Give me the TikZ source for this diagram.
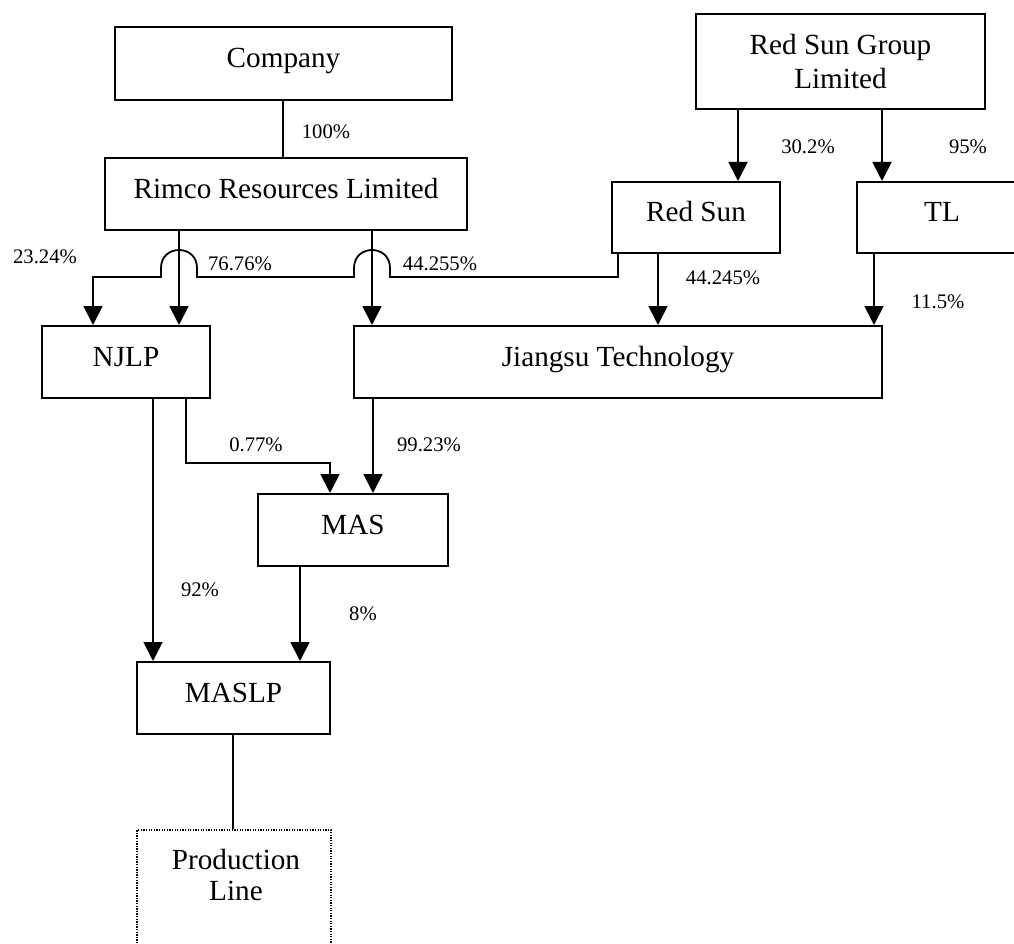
\documentclass[tikz,border=0pt]{standalone}
\usepackage{fontspec}
\setmainfont{Liberation Serif}
\usetikzlibrary{arrows.meta}
\begin{document}
\begin{tikzpicture}[x=1pt,y=-1pt,
  box/.style={draw,line width=2pt,inner sep=0pt,font=\fontsize{29.2}{34}\selectfont,text height=20pt,text depth=11pt},
  mbox/.style={draw,line width=2pt,inner sep=0pt,font=\fontsize{29.2}{34}\selectfont,align=center},
  dbox/.style={draw,line width=1.8pt,dash pattern=on 1.3pt off 1.3pt,inner sep=0pt},
  lbl/.style={font=\fontsize{20.7}{24}\selectfont,inner sep=0pt},
  conn/.style={line width=1.8pt},
  arr/.style={conn,-{Triangle[width=19pt,length=19pt]}},
]
\useasboundingbox (0,0) rectangle (1014,944);
\clip (0,0) rectangle (1014,944);

% boxes
\node[box,minimum width=337pt,minimum height=73pt] (comp) at (283.5,63.5) {Company};
\node[box,minimum width=362pt,minimum height=72pt] (rimco) at (286,194) {Rimco Resources Limited};
\node[mbox,minimum width=289pt,minimum height=95pt] (rsg) at (840.5,61.5) {Red Sun Group\\Limited};
\node[box,minimum width=168pt,minimum height=71pt] (rs) at (696,217.5) {Red Sun};
\node[box,minimum width=170pt,minimum height=71pt] (tl) at (942,217.5) {TL};
\node[box,minimum width=168pt,minimum height=72pt] (njlp) at (126,362) {NJLP};
\node[box,minimum width=528pt,minimum height=72pt] (jt) at (618,362) {Jiangsu Technology};
\node[box,minimum width=190pt,minimum height=72pt] (mas) at (353,530) {MAS};
\node[box,minimum width=193pt,minimum height=72pt] (maslp) at (233.5,698) {MASLP};
\node[dbox,minimum width=194pt,minimum height=150pt] (pl) at (234,905) {};
\node[font=\fontsize{29.2}{31}\selectfont,align=center,inner sep=0pt] (pltext) at (236,875) {Production\\Line};

% connectors
\draw[conn] (283,0 |- comp.south) -- (283,0 |- rimco.north);
\draw[arr] (738,0 |- rsg.south) -- (738,0 |- rs.north);
\draw[arr] (882,0 |- rsg.south) -- (882,0 |- tl.north);
\draw[arr] (179,0 |- rimco.south) -- (179,0 |- njlp.north);
\draw[arr] (372,0 |- rimco.south) -- (372,0 |- jt.north);
\draw[arr] (618,0 |- rs.south) -- (618,277) -- (390,277) -- (390,268)
   .. controls (390,244) and (354,244) .. (354,268) -- (354,277) -- (197,277) -- (197,268)
   .. controls (197,244) and (161,244) .. (161,268) -- (161,277) -- (93,277) -- (93,0 |- njlp.north);
\draw[arr] (658,0 |- rs.south) -- (658,0 |- jt.north);
\draw[arr] (874,0 |- tl.south) -- (874,0 |- jt.north);
\draw[arr] (186,0 |- njlp.south) -- (186,463) -- (330,463) -- (330,0 |- mas.north);
\draw[arr] (373,0 |- jt.south) -- (373,0 |- mas.north);
\draw[arr] (153,0 |- njlp.south) -- (153,0 |- maslp.north);
\draw[arr] (300,0 |- mas.south) -- (300,0 |- maslp.north);
\draw[conn] (233,0 |- maslp.south) -- (233,0 |- pl.north);

% labels
\node[lbl] (l100) at (326,132) {100\%};
\node[lbl] (l302) at (808,147) {30.2\%};
\node[lbl] (l95) at (968,147) {95\%};
\node[lbl] (l2324) at (45,257) {23.24\%};
\node[lbl] (l7676) at (240,264) {76.76\%};
\node[lbl] (l44255) at (440,264) {44.255\%};
\node[lbl] (l44245) at (723,278) {44.245\%};
\node[lbl] (l115) at (938,302) {11.5\%};
\node[lbl] (l077) at (256,445) {0.77\%};
\node[lbl] (l9923) at (429,445) {99.23\%};
\node[lbl] (l92) at (200,590) {92\%};
\node[lbl] (l8) at (363,614) {8\%};
\end{tikzpicture}
\end{document}
